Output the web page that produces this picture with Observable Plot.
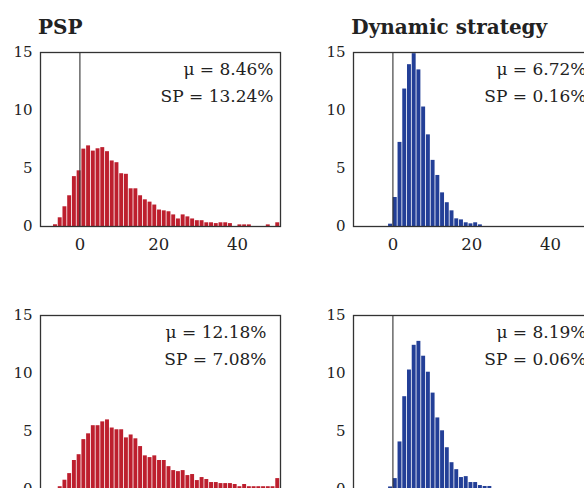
<!DOCTYPE html>
<html>
<head>
<meta charset="utf-8">
<script src="https://cdn.jsdelivr.net/npm/d3@7"></script>
<script src="https://cdn.jsdelivr.net/npm/@observablehq/plot@0.6"></script>
<style>
  html, body { margin: 0; padding: 0; background: #fff; }
  #wrap { position: relative; width: 584px; height: 488px; overflow: hidden; background: #fff; }
  .panel { position: absolute; width: 292px; height: 260px; }
  .panel svg { max-width: none !important; }
  .title { position: absolute; font-family: "DejaVu Serif", serif; font-weight: bold; font-size: 20px; line-height: 20px; color: #222; white-space: nowrap; }
</style>
</head>
<body>
<div id="wrap"></div>
<script>
// ---- data ----
const titles = ["PSP", "Dynamic strategy"];
const xTicks = [0, 20, 40];
const yTicks = [0, 5, 10, 15];
const binWidth = 1.2;

// bin centres (percent return)
const centersPSP = [-6.2, -5.0, -3.8, -2.6, -1.4, -0.2, 1.0, 2.2, 3.4, 4.6, 5.8, 7.0, 8.2, 9.4, 10.6, 11.8,
  13.0, 14.2, 15.4, 16.6, 17.8, 19.0, 20.2, 21.4, 22.6, 23.8, 25.0, 26.2, 27.4, 28.6, 29.8, 31.0,
  32.2, 33.4, 34.6, 35.8, 37.0, 38.2, 39.4, 40.6, 41.8, 43.0, 44.2, 45.4, 46.6, 47.8, 49.0, 50.2];
const centersDyn = [-0.6, 0.6, 1.8, 3.0, 4.2, 5.4, 6.6, 7.8, 9.0, 10.2, 11.4, 12.6, 13.8, 15.0, 16.2,
  17.4, 18.6, 19.8, 21.0, 22.2, 23.4, 24.6];

// frequencies (%)
const pspTop = [0.15, 0.75, 1.7, 2.65, 4.3, 4.8, 6.67, 6.95, 6.5, 6.7, 6.8, 6.45, 5.65, 5.5, 4.55, 4.5,
  3.25, 3.25, 2.65, 2.3, 2.1, 1.85, 1.42, 1.35, 1.27, 1.0, 0.65, 1.0, 0.83, 0.65, 0.5, 0.5,
  0.32, 0.32, 0.25, 0.32, 0.32, 0.25, 0, 0.14, 0.14, 0.14, 0, 0, 0, 0.14, 0, 0.32];
const dynTop = [0.2, 2.5, 7.25, 11.85, 13.95, 14.9, 13.5, 10.3, 7.9, 5.7, 4.4, 2.9, 2.05, 1.35, 0.66,
  0.57, 0.32, 0.23, 0.32, 0.14, 0, 0];
const pspBottom = [0, 0.24, 0.8, 1.37, 2.5, 3.0, 4.3, 4.8, 5.5, 5.5, 5.83, 6.0, 5.3, 5.15, 5.15, 4.45,
  4.7, 4.37, 3.7, 2.9, 2.75, 2.9, 2.5, 2.5, 1.97, 1.63, 1.54, 1.63, 1.2, 1.29, 0.77, 1.03,
  0.86, 0.6, 0.6, 0.51, 0.51, 0.51, 0.43, 0.24, 0.43, 0.24, 0.24, 0.24, 0.24, 0.24, 0.24, 0.94];
const dynBottom = [0.22, 0.94, 4.1, 8.0, 10.3, 12.43, 12.77, 11.49, 10.11, 8.31, 6.17, 5.06, 3.6, 2.31,
  1.71, 1.03, 1.11, 0.6, 0.6, 0.34, 0.26, 0.26];

const muLabels = ["μ = 8.46%", "μ = 6.72%", "μ = 12.18%", "μ = 8.19%"];
const spLabels = ["SP = 13.24%", "SP = 0.16%", "SP = 7.08%", "SP = 0.06%"];

const red = "#bd1f2e";
const blue = "#233f97";

const panels = [
  {left: 0, top: 0, centers: centersPSP, values: pspTop, color: red, zero: true, title: titles[0], i: 0, dx: -7},
  {left: 313.3, top: 0, centers: centersDyn, values: dynTop, color: blue, zero: true, title: titles[1], i: 1, dx: -7},
  {left: 0, top: 263, centers: centersPSP, values: pspBottom, color: red, zero: false, title: null, i: 2, dx: -14},
  {left: 313.3, top: 263, centers: centersDyn, values: dynBottom, color: blue, zero: true, title: null, i: 3, dx: -7}
];

const wrap = document.getElementById("wrap");

for (const p of panels) {
  const data = p.centers.map((c, j) => ({x1: c - binWidth / 2, x2: c + binWidth / 2, y: p.values[j]}));
  const chart = Plot.plot({
    width: 292,
    height: 260,
    marginLeft: 40,
    marginRight: 12,
    marginTop: 52,
    marginBottom: 34,
    style: {fontFamily: "'DejaVu Serif', serif", background: "transparent", color: "#222", overflow: "visible", maxWidth: "none"},
    x: {domain: [-10, 50.9], label: null},
    y: {domain: [0, 15], label: null},
    marks: [
      Plot.rectY(data.filter(d => d.y > 0), {x1: "x1", x2: "x2", y: "y", fill: p.color, insetLeft: 0.4, insetRight: 0.4}),
      p.zero ? Plot.ruleX([0], {stroke: "#333", strokeWidth: 1.1}) : null,
      Plot.frame({stroke: "#333", strokeWidth: 1.3}),
      Plot.axisX(xTicks, {tickSize: 0, tickPadding: 12, fontSize: 16.5, label: null}),
      Plot.axisY(yTicks, {tickSize: 0, tickPadding: 8, fontSize: 15, label: null}),
      Plot.text([muLabels[p.i]], {frameAnchor: "top-right", textAnchor: "end", lineAnchor: "top", dx: p.dx, dy: 10, fontSize: 17, fill: "#222"}),
      Plot.text([spLabels[p.i]], {frameAnchor: "top-right", textAnchor: "end", lineAnchor: "top", dx: p.dx, dy: 37.5, fontSize: 17, fill: "#222"})
    ]
  });
  const div = document.createElement("div");
  div.className = "panel";
  div.style.left = p.left + "px";
  div.style.top = p.top + "px";
  div.appendChild(chart);
  wrap.appendChild(div);
  if (p.title) {
    const t = document.createElement("div");
    t.className = "title";
    t.textContent = p.title;
    t.style.left = (p.left + 38) + "px";
    t.style.top = "17px";
    wrap.appendChild(t);
  }
}
</script>
</body>
</html>
